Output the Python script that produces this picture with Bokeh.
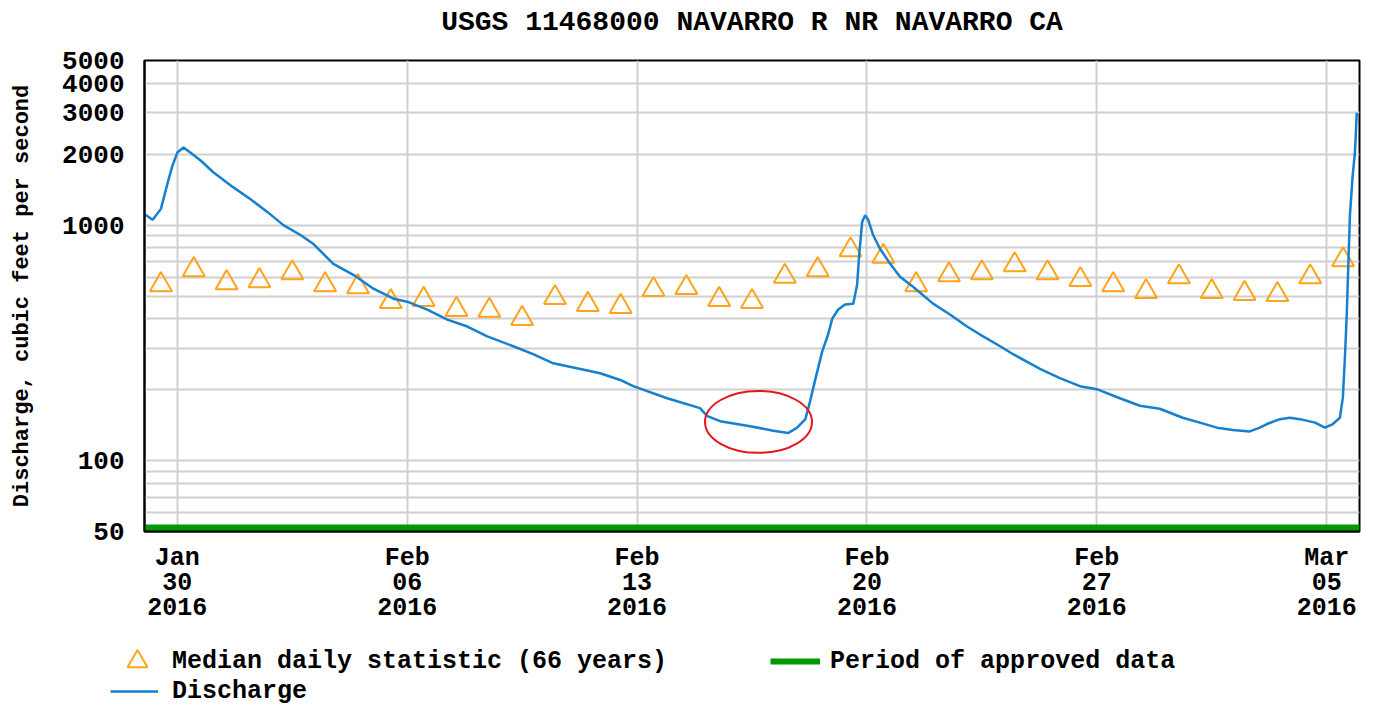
import pandas as pd
from bokeh.plotting import figure
from bokeh.layouts import column
from bokeh.models import (Range1d, FixedTicker, DatetimeTickFormatter, PrintfTickFormatter,
                          Legend, LegendItem, Title)
from bokeh.embed import file_html
from bokeh.resources import INLINE

# ---------------- data ----------------
title_text = "USGS 11468000 NAVARRO R NR NAVARRO CA"
y_label = "Discharge, cubic feet per second"

x_start = "2016-01-29 00:00"
x_end = "2016-03-06 00:00"

x_tick_dates = ["2016-01-30", "2016-02-06", "2016-02-13", "2016-02-20", "2016-02-27", "2016-03-05"]
y_ticks = [50, 100, 1000, 2000, 3000, 4000, 5000]
y_minor_ticks = [60, 70, 80, 90, 200, 300, 400, 500, 600, 700, 800, 900]

median_dates = [
    "2016-01-29", "2016-01-30", "2016-01-31", "2016-02-01", "2016-02-02", "2016-02-03",
    "2016-02-04", "2016-02-05", "2016-02-06", "2016-02-07", "2016-02-08", "2016-02-09",
    "2016-02-10", "2016-02-11", "2016-02-12", "2016-02-13", "2016-02-14", "2016-02-15",
    "2016-02-16", "2016-02-17", "2016-02-18", "2016-02-19", "2016-02-20", "2016-02-21",
    "2016-02-22", "2016-02-23", "2016-02-24", "2016-02-25", "2016-02-26", "2016-02-27",
    "2016-02-28", "2016-02-29", "2016-03-01", "2016-03-02", "2016-03-03", "2016-03-04",
    "2016-03-05",
]
median_values = [
    558, 646, 569, 580, 627, 558, 547, 473, 483, 438,
    434, 401, 492, 460, 451, 532, 542, 483, 473, 606,
    646, 784, 736, 558, 615, 627, 678, 627, 586, 558,
    522, 603, 522, 512, 507, 603, 712,
]

discharge_times = [
    "2016-01-29 00:00", "2016-01-29 06:00", "2016-01-29 12:00", "2016-01-29 17:00", "2016-01-29 20:30",
    "2016-01-30 00:00", "2016-01-30 04:30", "2016-01-30 09:30", "2016-01-30 17:00", "2016-01-31 02:30",
    "2016-01-31 17:00", "2016-02-01 05:30", "2016-02-01 18:00", "2016-02-02 05:30", "2016-02-02 18:00",
    "2016-02-03 03:30", "2016-02-03 18:00", "2016-02-04 08:40", "2016-02-04 23:20", "2016-02-05 14:00",
    "2016-02-06 00:00", "2016-02-06 14:40", "2016-02-07 05:20", "2016-02-07 20:00", "2016-02-08 10:30",
    "2016-02-09 05:30", "2016-02-09 20:00", "2016-02-10 10:45", "2016-02-11 06:30", "2016-02-11 21:00",
    "2016-02-12 11:40", "2016-02-12 21:10", "2016-02-13 22:00", "2016-02-14 22:00", "2016-02-15 03:00",
    "2016-02-15 12:40", "2016-02-16 10:40", "2016-02-17 03:30", "2016-02-17 14:30", "2016-02-17 21:00",
    "2016-02-18 03:00", "2016-02-18 06:30", "2016-02-18 10:00", "2016-02-18 15:20", "2016-02-18 19:40",
    "2016-02-18 22:40", "2016-02-19 03:00", "2016-02-19 08:00", "2016-02-19 14:00", "2016-02-19 16:50",
    "2016-02-19 18:20", "2016-02-19 20:30", "2016-02-19 22:40", "2016-02-20 01:00", "2016-02-20 04:30",
    "2016-02-20 09:40", "2016-02-20 17:00", "2016-02-21 00:10", "2016-02-21 09:40", "2016-02-22 00:20",
    "2016-02-22 12:40", "2016-02-23 01:10", "2016-02-23 10:40", "2016-02-24 01:20", "2016-02-24 10:50",
    "2016-02-25 06:30", "2016-02-25 21:00", "2016-02-26 11:40", "2016-02-27 00:00", "2016-02-27 16:50",
    "2016-02-28 07:30", "2016-02-28 22:00", "2016-02-29 14:50", "2016-03-01 03:20", "2016-03-01 15:50",
    "2016-03-02 03:30", "2016-03-02 15:50", "2016-03-02 23:10", "2016-03-03 04:20", "2016-03-03 13:50",
    "2016-03-03 21:10", "2016-03-04 04:30", "2016-03-04 15:30", "2016-03-04 22:45", "2016-03-05 04:30",
    "2016-03-05 09:40", "2016-03-05 11:50", "2016-03-05 13:20", "2016-03-05 14:40", "2016-03-05 17:00",
    "2016-03-05 19:00", "2016-03-05 20:40", "2016-03-05 22:00",
]
discharge_values = [
    1113, 1053, 1172, 1518, 1792,
    2032, 2134, 2032, 1881, 1673,
    1446, 1287, 1135, 1000, 908,
    831, 685, 615, 537, 487,
    473, 438, 397, 371, 337,
    306, 283, 259, 245, 235,
    220, 207, 184, 167, 155,
    147, 140, 134, 131, 138,
    150, 179, 218, 291, 344,
    401, 438, 460, 464, 558,
    747, 1030, 1102, 1050, 908,
    792, 685, 603, 547, 464,
    417, 371, 343, 306, 283,
    245, 224, 207, 201, 184,
    171, 166, 152, 145, 138,
    135, 133, 138, 143, 150,
    152, 150, 145, 138, 143,
    152, 185, 273, 416, 1099,
    1621, 2032, 3000,
]

approved_period = ["2016-01-29 00:00", "2016-03-06 00:00"]
approved_level = [50, 50]

highlight_time = "2016-02-16 16:45"
highlight_value = 146

median_label = "Median daily statistic (66 years)"
approved_label = "Period of approved data"
discharge_label = "Discharge"

# ---------------- styling ----------------
FONT = "Liberation Mono"
BLUE = "#1580d0"
ORANGE = "#ffa31a"
GREEN = "#009a00"
GRID = "#d0d0d0"
W = 1370

dis_x = pd.to_datetime(discharge_times)
med_x = pd.to_datetime(median_dates) + pd.Timedelta(hours=12)
appr_x = pd.to_datetime(approved_period)
tick_ms = [pd.Timestamp(d).value / 1e6 for d in x_tick_dates]

p = figure(width=W, height=625, x_axis_type="datetime", y_axis_type="log",
           x_range=Range1d(pd.Timestamp(x_start), pd.Timestamp(x_end)),
           y_range=Range1d(50, 5000),
           output_backend="svg", toolbar_location=None,
           min_border_left=144, min_border_right=11, min_border_top=57, min_border_bottom=94)

# spacer (closest to the frame) then the title above it
p.add_layout(Title(text=" ", text_font_size="1px", standoff=12), "above")
p.add_layout(Title(text=title_text, align="center", vertical_align="top", standoff=12,
                   text_font=FONT, text_font_size="28px", text_font_style="bold",
                   text_color="black"), "above")

p.outline_line_color = "black"
p.outline_line_width = 2
p.background_fill_color = "white"
p.border_fill_color = "white"

xa = p.xaxis[0]
xa.ticker = FixedTicker(ticks=tick_ms)
fmt = "%b\n%d\n%Y"
xa.formatter = DatetimeTickFormatter(days=fmt, months=fmt, years=fmt, hours=fmt,
                                     hourmin=fmt, minutes=fmt, minsec=fmt, seconds=fmt,
                                     milliseconds=fmt, microseconds=fmt,
                                     strip_leading_zeros=False)
xa.major_label_text_font = FONT
xa.major_label_text_font_size = "25px"
xa.major_label_text_font_style = "bold"
xa.major_label_text_color = "black"
xa.major_label_text_line_height = 0.866
xa.major_label_standoff = 12
xa.major_tick_out = 0
xa.major_tick_in = 0
xa.minor_tick_out = 0
xa.minor_tick_in = 0
xa.major_tick_line_color = None
xa.minor_tick_line_color = None
xa.axis_line_color = "black"
xa.axis_line_width = 2

ya = p.yaxis[0]
ya.ticker = FixedTicker(ticks=y_ticks, minor_ticks=y_minor_ticks)
ya.formatter = PrintfTickFormatter(format="%d")
ya.major_label_text_font = FONT
ya.major_label_text_font_size = "26px"
ya.major_label_text_font_style = "bold"
ya.major_label_text_color = "black"
ya.major_label_standoff = 20
ya.major_tick_out = 0
ya.major_tick_in = 0
ya.minor_tick_out = 0
ya.minor_tick_in = 0
ya.major_tick_line_color = None
ya.minor_tick_line_color = None
ya.axis_line_color = "black"
ya.axis_line_width = 2
ya.axis_label = y_label
ya.axis_label_text_font = FONT
ya.axis_label_text_font_size = "22px"
ya.axis_label_text_font_style = "bold"
ya.axis_label_text_color = "black"
ya.axis_label_standoff = 24

p.xgrid.ticker = FixedTicker(ticks=tick_ms)
p.xgrid.grid_line_color = GRID
p.xgrid.grid_line_width = 2
p.ygrid.grid_line_color = GRID
p.ygrid.grid_line_width = 2
p.ygrid.minor_grid_line_color = GRID
p.ygrid.minor_grid_line_width = 2

# ---------------- glyphs ----------------
p.line(x=appr_x, y=approved_level, line_color=GREEN, line_width=14)
p.scatter(x=med_x, y=median_values, marker="triangle", size=22,
          fill_color=None, line_color=ORANGE, line_width=2)
p.line(x=dis_x, y=discharge_values, line_color=BLUE, line_width=2.5)
p.ellipse(x=[pd.Timestamp(highlight_time)], y=[highlight_value], width=107, height=62,
          width_units="screen", height_units="screen", fill_color=None,
          line_color="#e8141c", line_width=2)

# ---------------- legend strip ----------------
LH = 82
lf = figure(width=W, height=LH, x_range=Range1d(0, W), y_range=Range1d(0, LH),
            x_axis_location=None, y_axis_location=None, output_backend="svg",
            toolbar_location=None, min_border=0, outline_line_color=None)
try:
    lf.frame_align = False
except AttributeError:
    pass
lf.xgrid.visible = False
lf.ygrid.visible = False
# legend key renderers: one point each, kept outside the visible range
key_x = [-1000]
key_y = [-1000]
k_med = lf.scatter(x=key_x, y=key_y, marker="triangle", fill_color=None,
                   line_color=ORANGE, line_width=2)
k_appr = lf.line(x=key_x, y=key_y, line_color=GREEN, line_width=6)
k_dis = lf.line(x=key_x, y=key_y, line_color=BLUE, line_width=2.5)

legend_style = dict(padding=0, margin=0, border_line_color=None, background_fill_alpha=0,
                    label_text_font=FONT, label_text_font_size="25px",
                    label_text_font_style="bold", label_text_color="black")

leg1 = Legend(items=[LegendItem(label=median_label, renderers=[k_med]),
                     LegendItem(label=approved_label, renderers=[k_appr])],
              orientation="horizontal", location=(112, 21),
              glyph_width=50, glyph_height=50, label_height=50, label_standoff=10,
              spacing=103, **legend_style)
leg2 = Legend(items=[LegendItem(label=discharge_label, renderers=[k_dis])],
              orientation="horizontal", location=(110, 1),
              glyph_width=48, glyph_height=30, label_height=30, label_standoff=14,
              spacing=0, **legend_style)
lf.add_layout(leg1)
lf.add_layout(leg2)

layout = column(p, lf, spacing=0)
open("out.html", "w").write(file_html(layout, INLINE))
